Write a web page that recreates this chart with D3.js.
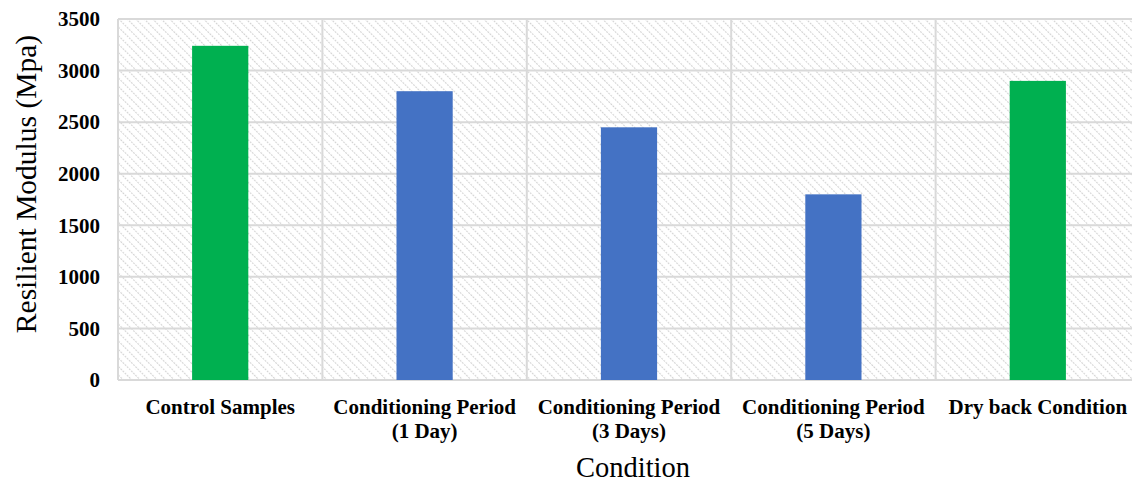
<!DOCTYPE html>
<html>
<head>
<meta charset="utf-8">
<script src="https://cdn.jsdelivr.net/npm/d3@7"></script>
<style>
  body { margin: 0; background: #fff; }
  svg { display: block; font-family: "Liberation Serif", "Times New Roman", serif; }
</style>
</head>
<body>
<svg id="chart" width="1132" height="482"></svg>
<script>
// chart data
const categories = [
    ["Control Samples"],
    ["Conditioning Period", "(1 Day)"],
    ["Conditioning Period", "(3 Days)"],
    ["Conditioning Period", "(5 Days)"],
    ["Dry back Condition"]
];
const modulusValues = [3240, 2800, 2450, 1800, 2900];
const barColors = ["#00b050", "#4472c4", "#4472c4", "#4472c4", "#00b050"];
const yTicks = [0, 500, 1000, 1500, 2000, 2500, 3000, 3500];
const yTitle = "Resilient Modulus (Mpa)";
const xTitle = "Condition";

const margin = {top: 19, left: 118, bottom: 102, right: -8};
const width = 1132 - margin.left - margin.right;
const height = 482 - margin.top - margin.bottom;

const svg = d3.select("#chart");

// hatched background
const defs = svg.append("defs");
defs.append("pattern")
    .attr("id", "hatch")
    .attr("patternUnits", "userSpaceOnUse")
    .attr("width", 6)
    .attr("height", 6)
    .attr("patternTransform", "rotate(-45)")
    .append("line")
    .attr("x1", 0).attr("y1", 0)
    .attr("x2", 0).attr("y2", 6)
    .attr("stroke", "#d4d4d4")
    .attr("stroke-width", 2.2)
    .attr("stroke-dasharray", "2,1");

const g = svg.append("g").attr("transform", `translate(${margin.left},${margin.top})`);

const x = d3.scaleBand()
    .domain(d3.range(categories.length))
    .range([0, width])
    .padding(0);

const y = d3.scaleLinear()
    .domain([0, 3500])
    .range([height, 0]);

g.append("rect")
    .attr("width", width)
    .attr("height", height)
    .attr("fill", "url(#hatch)");

// gridlines
g.selectAll(".hgrid")
    .data(yTicks)
    .join("line")
    .attr("class", "hgrid")
    .attr("x1", 0).attr("x2", width)
    .attr("y1", d => y(d)).attr("y2", d => y(d))
    .attr("stroke", "#d9d9d9")
    .attr("stroke-width", 2);

g.selectAll(".vgrid")
    .data(d3.range(categories.length + 1))
    .join("line")
    .attr("class", "vgrid")
    .attr("x1", d => d * x.step()).attr("x2", d => d * x.step())
    .attr("y1", 0).attr("y2", height)
    .attr("stroke", "#d9d9d9")
    .attr("stroke-width", 2);

// bars
const barWidth = x.bandwidth() * 0.275;
g.selectAll(".bar")
    .data(modulusValues)
    .join("rect")
    .attr("class", "bar")
    .attr("x", (d, i) => x(i) + x.bandwidth() / 2 - barWidth / 2)
    .attr("y", d => y(d))
    .attr("width", barWidth)
    .attr("height", d => height - y(d))
    .attr("fill", (d, i) => barColors[i]);

// y axis
const yAxis = d3.axisLeft(y).tickValues(yTicks).tickFormat(d3.format("d")).tickSize(0).tickPadding(18);
g.append("g")
    .call(yAxis)
    .call(s => s.select(".domain").remove())
    .call(s => s.selectAll("text")
        .attr("font-family", "Liberation Serif")
        .attr("font-size", 21)
        .attr("font-weight", "bold")
        .attr("fill", "#000"));

// x labels
const xLabels = g.append("g").attr("transform", `translate(0,${height})`);
xLabels.selectAll("text")
    .data(categories)
    .join("text")
    .attr("x", (d, i) => x(i) + x.bandwidth() / 2)
    .attr("y", 34)
    .attr("text-anchor", "middle")
    .attr("font-size", 21)
    .attr("font-weight", "bold")
    .selectAll("tspan")
    .data(d => d)
    .join("tspan")
    .attr("x", function () { return this.parentNode.getAttribute("x"); })
    .attr("dy", (d, i) => i === 0 ? 0 : 24)
    .text(d => d);

// titles
svg.append("text")
    .attr("transform", `translate(36,184) rotate(-90)`)
    .attr("text-anchor", "middle")
    .attr("font-size", 29.5)
    .text(yTitle);

svg.append("text")
    .attr("x", 633)
    .attr("y", 477)
    .attr("text-anchor", "middle")
    .attr("font-size", 28.5)
    .text(xTitle);
</script>
</body>
</html>
